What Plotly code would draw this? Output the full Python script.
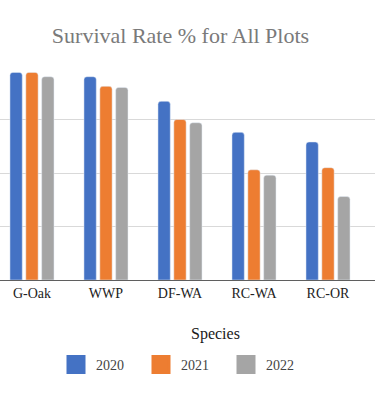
import plotly.graph_objects as go

species = ["G-Oak", "WWP", "DF-WA", "RC-WA", "RC-OR"]
years = ["2020", "2021", "2022"]
rate_2020 = [97, 95, 83.5, 69, 64.5]
rate_2021 = [97, 90.5, 75, 51.5, 52.5]
rate_2022 = [95, 90, 73.5, 49, 39]
colors = ["#4472C4", "#ED7D31", "#A5A5A5"]

series = [rate_2020, rate_2021, rate_2022]
SERIF = "Liberation Serif, Times New Roman, serif"

fig = go.Figure()
for yr, vals, col in zip(years, series, colors):
    fig.add_trace(go.Bar(x=species, y=vals, name=yr, marker=dict(color=col, cornerradius=3),
                         showlegend=False, hoverinfo="x+y"))
for yr, col in zip(years, colors):
    fig.add_trace(go.Scatter(x=[None], y=[None], mode="markers", name=yr,
                             marker=dict(symbol="square", size=16, color=col,
                                         line=dict(color=col, width=3))))

fig.update_layout(
    width=375, height=400,
    margin=dict(l=0, r=0, t=66, b=120, autoexpand=False),
    paper_bgcolor="white", plot_bgcolor="white",
    barmode="group", bargap=0.357, bargroupgap=0.224,
    title=dict(text="Survival Rate % for All Plots", x=180.5/375, xanchor="center",
               y=1-35/400, yanchor="middle", yref="container",
               font=dict(family=SERIF, size=22, color="#7a7a7a")),
    xaxis=dict(range=[-0.432, 4.635], showgrid=False, showline=True, linecolor="#5f5f5f",
               linewidth=1, ticks="", automargin=False,
               tickfont=dict(family=SERIF, size=14, color="#222")),
    yaxis=dict(range=[0, 100], dtick=25, showticklabels=False, gridcolor="#d9d9d9",
               gridwidth=1, zeroline=False, automargin=False),
    legend=dict(orientation="h", x=56/375, xanchor="left", y=1-365/400, yanchor="middle",
                yref="container", font=dict(family=SERIF, size=14, color="#444"),
                entrywidth=40, entrywidthmode="pixels"),
    annotations=[dict(text="Species", x=216/375, xref="paper", y=(280-334)/214, yref="paper",
                      xanchor="center", yanchor="middle", showarrow=False,
                      font=dict(family=SERIF, size=16, color="#1a1a1a"))],
)

fig.write_html("out.html", config={"displayModeBar": False},
               post_script="document.body.style.margin='0';document.body.style.overflow='hidden';")
